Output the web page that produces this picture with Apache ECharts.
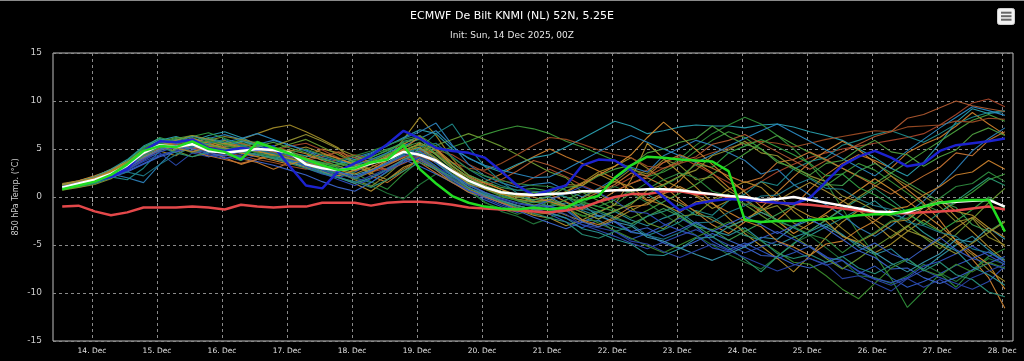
<!DOCTYPE html>
<html><head><meta charset="utf-8">
<script src="https://cdn.jsdelivr.net/npm/echarts@6/dist/echarts.min.js"></script>
<style>html,body{margin:0;padding:0;background:#000}#c{width:1024px;height:361px}</style>
</head><body><div id="c"></div>
<script>
// x grid: hours relative to 14 Dec 00:00 (display time), 6-hourly from 13 Dec 13:00
const firstHour = -11, stepHours = 6, nPoints = 59;
const tickHours = [0,24,48,72,96,120,144,168,192,216,240,264,288,312,336];
const tickLabels = ['14. Dec','15. Dec','16. Dec','17. Dec','18. Dec','19. Dec','20. Dec','21. Dec','22. Dec','23. Dec','24. Dec','25. Dec','26. Dec','27. Dec','28. Dec'];
const yTicks = [-15,-10,-5,0,5,10,15];

const meanLine = [1.0,1.4, 1.8,2.4,3.3,4.6, 5.4,5.2,5.5,4.8, 4.6,4.8,5.0,4.9, 4.6,3.4,3.0,2.8, 3.0,3.5,3.9,4.7, 4.4,3.8,2.7,1.7, 1.0,0.5,0.3,0.2, 0.3,0.4,0.6,0.6, 0.7,0.7,0.8,0.8, 0.7,0.5,0.3,0.1, 0.0,-0.3,-0.2,0.0, -0.3,-0.6,-0.9,-1.2, -1.5,-1.6,-1.6,-1.0, -0.6,-0.5,-0.4,-0.3, -1.0];
const controlRun = [0.8,1.2, 1.6,2.3,3.4,4.8, 5.3,5.2,5.8,5.0, 4.7,3.9,5.7,5.1, 4.5,3.9,3.3,2.8, 3.0,3.6,3.9,5.4, 2.9,1.4,0.1,-0.6, -1.0,-1.2,-1.3,-1.1, -1.3,-1.1,-0.3,0.1, 2.0,3.3,4.2,4.1, 3.9,3.8,3.7,2.7, -2.4,-2.6,-2.5,-2.5, -2.4,-2.3,-2.1,-1.9, -1.8,-1.8,-1.4,-1.0, -0.6,-0.4,-0.3,-0.3, -3.6];
const hresRun = [1.0,1.4, 1.7,2.1,2.9,4.8, 5.8,5.7,6.0,5.1, 4.8,5.1,4.9,5.3, 3.2,1.2,0.9,2.7, 3.5,4.3,5.5,6.9, 6.1,5.1,4.8,4.6, 4.1,2.7,1.2,0.2, 0.7,1.2,3.3,3.9, 3.8,2.8,1.4,0.0, -1.4,-0.7,-0.4,-0.2, -0.3,-0.4,-0.6,-0.7, -0.1,1.6,3.3,4.2, 4.8,4.1,3.2,3.5, 4.8,5.4,5.6,5.8, 6.1];
const climateLine = [-1.0,-0.9, -1.5,-1.9,-1.6,-1.1, -1.1,-1.1,-1.0,-1.1, -1.3,-0.8,-1.0,-1.1, -1.0,-1.0,-0.6,-0.6, -0.6,-0.9,-0.6,-0.5, -0.5,-0.6,-0.8,-1.1, -1.2,-1.3,-1.4,-1.5, -1.6,-1.4,-1.1,-0.5, 0.0,0.3,0.3,0.6, 0.6,0.3,0.3,0.0, -0.1,-0.5,-0.6,-0.7, -0.8,-1.0,-1.2,-1.4, -1.6,-1.7,-1.7,-1.6, -1.5,-1.4,-1.2,-1.0, -1.3];

const ens01 = [1.2,1.5, 1.9,2.5,3.0,4.5, 5.5,5.0,5.6,5.2, 4.8,5.0,5.3,5.0, 4.4,3.8,3.2,2.9, 3.3,3.8,4.4,5.2, 4.4,3.2,1.6,0.6, 0.0,-0.6,-1.1,-1.5, -1.0,-0.6,-1.4,-2.0, -1.5,-2.4,-3.0,-2.2, -1.6,-2.8,-3.5,-4.0, -3.2,-4.5,-5.0,-4.2, -3.6,-2.8,-3.9,-5.2, -6.0,-5.4,-6.8,-7.5, -6.2,-5.0,-4.1,-5.5, -6.8];
const ens02 = [0.8,1.1, 1.5,2.2,3.6,5.0, 6.0,5.4,6.2,5.6, 5.0,4.5,4.9,4.6, 4.0,3.5,3.0,3.4, 3.9,4.2,4.8,5.6, 5.0,4.6,5.2,5.8, 6.5,7.0,7.4,7.1, 6.6,5.8,5.2,4.5, 3.8,3.0,2.1,2.6, 3.5,4.8,5.9,6.8, 6.2,5.0,3.8,2.9, 2.0,1.2,2.4,3.5, 2.8,1.6,0.4,-0.8, -1.5,-0.6,0.5,1.8, 2.4];
const ens03 = [1.3,1.6, 2.0,2.6,3.4,4.2, 4.8,4.3,5.5,5.8, 5.2,6.0,6.6,7.2, 7.5,6.8,6.0,5.1, 3.5,2.4,4.0,6.0, 8.3,6.4,4.0,2.2, 1.2,0.4,-0.3,-0.9, -0.4,0.6,1.5,2.6, 3.2,4.1,3.0,1.8, 0.9,0.1,-1.2,-0.4, 0.7,1.6,0.4,-1.5, -2.8,-1.9,-3.3,-4.6, -5.8,-4.9,-3.6,-2.4, -3.5,-4.8,-6.0,-7.6, -8.8];
const ens04 = [1.0,1.3, 1.8,2.4,3.1,4.4, 5.3,5.6,5.0,4.2, 4.4,4.0,3.6,2.9, 3.6,4.2,5.0,4.6, 3.6,2.2,1.5,2.7, 4.0,3.1,1.9,1.0, 1.6,2.4,3.3,4.2, 5.0,4.2,3.5,2.7, 1.9,0.6,-0.4,0.4, 1.7,3.6,2.5,1.0, -0.3,-1.6,-2.4,-1.0, 0.8,2.3,3.5,4.4, 3.8,3.0,4.6,5.5, 6.2,7.4,8.8,7.6, 6.5];
const ens05 = [1.1,1.4, 1.6,2.0,2.8,3.9, 4.9,5.7,5.9,5.4, 4.9,4.6,4.3,4.8, 5.3,5.6,4.9,4.1, 3.2,2.6,3.0,3.9, 4.4,4.9,4.4,3.4, 2.6,1.8,1.2,2.0, 2.9,2.1,1.2,0.5, 1.1,2.0,2.8,3.6, 4.2,3.3,2.4,1.5, 0.7,1.6,2.6,3.4, 4.1,4.6,5.0,5.3, 5.6,5.9,6.2,6.6, 7.5,8.6,9.8,10.2, 9.4];
const ens06 = [0.9,1.2, 1.6,2.1,2.7,3.5, 4.3,4.9,5.4,5.1, 4.6,4.2,4.6,4.3, 3.8,3.0,2.4,2.0, 2.6,3.4,4.2,5.0, 4.0,2.8,1.6,0.5, -0.3,-1.0,-1.6,-1.1, -1.8,-2.6,-3.2,-2.4, -3.6,-4.4,-3.8,-3.0, -2.2,-3.1,-4.6,-5.5, -4.8,-5.6,-6.4,-5.8, -5.1,-6.2,-7.4,-8.0, -7.2,-8.4,-9.4,-8.8, -8.0,-7.1,-6.4,-6.9, -7.5];
const ens07 = [1.1,1.5, 2.0,2.7,3.8,5.2, 5.9,6.3,5.8,6.4, 6.8,6.2,5.5,5.1, 4.6,4.3,3.9,3.5, 3.9,4.5,5.3,6.2, 7.0,6.6,5.0,4.1, 3.2,2.6,3.4,4.1, 4.4,5.2,6.1,7.0, 7.9,7.4,6.6,6.9, 7.3,7.5,7.4,7.4, 7.2,7.5,7.6,7.3, 6.8,6.4,5.9,5.0, 4.1,3.0,2.2,3.6, 5.6,7.8,9.2,8.7, 8.9];
const ens08 = [1.0,1.2, 1.5,2.3,3.3,4.9, 5.7,5.2,4.6,5.0, 5.6,5.9,5.4,4.9, 4.2,3.9,3.6,3.0, 2.5,1.6,0.8,2.4, 3.8,3.0,1.9,0.8, -0.6,-1.2,-1.8,-1.3, -0.4,-1.2,-2.0,-1.5, -0.8,0.4,1.5,2.8, 4.0,5.4,6.6,7.5, 8.3,7.6,6.4,5.0, 3.4,1.5,-1.2,-3.8, -6.0,-8.5,-11.5,-9.8, -8.0,-9.4,-7.6,-6.2, -5.4];
const ens09 = [1.4,1.7, 2.1,2.9,3.7,4.6, 5.2,4.7,5.1,5.6, 5.9,5.3,5.0,4.6, 4.0,3.4,2.7,2.1, 1.4,0.6,1.8,3.1, 3.8,2.8,1.5,0.7, 0.1,-0.6,-1.3,-1.9, -2.2,-3.0,-2.4,-1.6, -0.8,1.8,5.6,4.0, 2.5,1.0,-0.6,-2.2, -3.8,-5.1,-6.4,-7.8, -6.1,-4.2,-2.6,-1.4, -2.8,-4.3,-3.1,-1.6, -0.4,-2.1,-3.6,-5.2, -6.6];
const ens10 = [0.9,1.0, 1.4,2.0,2.9,4.1, 5.0,5.5,6.0,5.5, 5.1,5.4,5.8,5.2, 4.6,4.0,3.3,2.6, 1.9,1.2,0.4,-0.2, 1.3,2.4,1.6,0.6, -0.5,-1.5,-2.0,-2.8, -2.2,-1.4,-0.6,0.3, 1.1,0.4,-0.6,-1.8, -2.9,-4.0,-5.0,-6.0, -6.8,-7.5,-6.2,-4.8, -4.0,-5.3,-6.6,-8.2, -8.4,-9.0,-8.2,-7.0, -7.9,-8.8,-7.6,-6.4, -7.0];
const ens11 = [1.2,1.6, 2.0,2.4,2.0,1.5, 3.4,5.0,5.6,6.1, 6.5,6.0,5.5,5.9, 5.4,4.8,4.1,3.7, 4.1,4.6,5.4,6.1, 6.8,7.7,5.4,3.4, 2.2,1.5,1.0,1.3, 1.5,0.7,0.0,0.9, 1.9,3.1,2.6,4.3, 5.1,5.9,5.4,4.6, 3.8,2.4,2.9,1.3, 0.2,-0.8,-1.9,-3.2, -4.1,-3.0,-1.7,-0.4, 1.2,2.9,4.8,6.1, 7.2];
const ens12 = [1.0,1.4, 1.7,2.5,3.5,4.8, 5.4,5.9,5.3,4.7, 4.1,3.4,3.9,4.5, 4.9,4.5,3.8,3.2, 2.7,3.4,4.3,5.5, 6.4,4.8,3.2,2.1, 1.4,0.8,0.2,0.5, 0.3,-0.5,-1.3,-0.5, 0.6,1.4,2.0,1.2, -0.3,-1.6,-2.9,-3.8, -2.6,-1.1,0.5,2.1, 3.6,4.8,5.8,4.9, 3.6,2.2,0.8,-0.6, -2.4,-4.6,-6.5,-8.4, -11.6];
const ens13 = [1.3,1.5, 1.9,2.6,3.6,4.7, 5.6,6.1,6.4,5.8, 5.5,5.7,5.0,4.5, 4.0,3.6,3.1,2.7, 3.2,2.6,3.5,4.9, 5.4,4.1,2.7,1.6, 0.8,0.1,-0.4,-0.8, -0.9,-0.3,0.5,-0.4, -1.3,-2.2,-1.4,-0.5, 0.4,1.3,2.4,3.4, 4.5,5.6,6.4,5.5, 4.6,3.8,3.0,2.2, 1.4,2.5,3.6,4.7, 5.8,6.9,8.0,8.6, 7.9];
const ens14 = [1.1,1.3, 1.7,2.2,3.0,4.0, 4.6,3.3,4.6,4.2, 4.5,4.9,5.2,4.6, 3.9,3.3,2.9,2.5, 2.0,2.8,3.6,4.3, 3.8,3.1,2.3,1.4, 0.5,-0.3,-0.9,-1.3, -1.6,-2.2,-2.9,-3.5, -4.1,-4.8,-5.4,-4.7, -4.0,-3.4,-4.2,-5.0, -5.8,-5.2,-4.6,-5.5, -6.4,-7.1,-6.6,-7.8, -8.6,-9.2,-8.5,-7.6, -8.4,-9.0,-9.6,-8.8, -7.2];
const ens15 = [0.7,1.0, 1.3,1.9,2.9,4.3, 5.4,5.0,5.4,5.9, 6.3,6.0,5.6,5.2, 4.8,4.1,3.4,2.6, 1.8,1.1,2.3,3.8, 5.0,3.7,2.3,1.0, 0.3,-0.5,-1.2,-1.8, -1.7,-1.0,-0.1,0.8, 1.6,2.9,2.4,3.9, 3.3,1.8,2.1,0.6, -0.2,-1.4,-0.9,-2.7, -3.5,-2.4,-1.2,0.0, 1.1,2.2,1.2,0.1, -1.0,-2.6,-2.2,-4.2, -5.0];
const ens16 = [1.2,1.4, 1.8,2.1,1.8,3.0, 4.8,5.6,5.2,5.9, 5.6,5.2,4.8,4.3, 3.7,3.2,2.8,2.4, 2.0,1.5,2.6,3.6, 5.1,6.6,7.6,5.2, 3.2,1.6,0.4,-0.4, -1.0,-1.3,-2.4,-2.5, -3.1,-3.6,-4.0,-3.4, -2.6,-1.4,-1.9,-0.4, 0.3,1.6,1.2,2.9, 3.7,4.1,5.4,5.9, 6.5,6.9,6.3,5.7, 6.6,7.6,8.3,8.8, 9.0];
const ens17 = [1.0,1.3, 1.6,2.3,3.2,4.5, 5.3,4.8,4.2,4.6, 5.0,4.6,4.2,4.9, 5.5,6.0,5.2,4.4, 3.6,2.9,3.4,4.1, 4.8,5.4,6.0,6.6, 6.0,5.3,4.4,3.5, 2.6,2.0,0.5,0.4, -0.8,-1.1,-2.7,-3.3, -2.0,-1.8,-0.4,0.3, -0.8,-1.9,-3.0,-4.1, -5.2,-6.4,-7.5,-6.4, -5.2,-4.1,-3.0,-4.2, -5.4,-3.9,-2.3,-0.6, 0.9];
const ens18 = [1.2,1.6, 2.0,2.7,3.5,4.4, 5.1,5.4,5.8,5.3, 4.7,4.3,3.9,3.6, 3.2,2.9,3.4,3.9, 4.4,4.0,3.5,4.2, 4.8,4.6,3.6,3.0, 2.8,3.5,4.4,5.4, 6.2,6.0,5.5,4.9, 4.4,4.1,3.2,3.0, 3.5,4.0,4.6,5.1, 5.6,5.8,5.6,5.2, 5.6,6.0,6.3,6.6, 6.9,6.8,7.3,7.4, 7.5,7.9,7.8,8.2, 8.1];
const ens19 = [1.0,1.2, 1.5,2.0,2.6,3.4, 4.2,4.7,5.2,4.9, 4.5,4.1,3.7,3.3, 2.8,2.3,1.6,1.0, 0.6,1.5,2.7,3.9, 3.2,2.4,1.5,0.7, 0.1,-0.6,-1.4,-2.1, -2.7,-3.3,-2.6,-1.9, -2.6,-3.7,-3.9,-4.8, -5.4,-4.6,-3.8,-4.5, -5.2,-6.1,-6.2,-7.0, -7.4,-6.8,-6.2,-5.6, -6.3,-7.5,-7.4,-8.4, -9.0,-8.4,-7.6,-6.9, -6.2];
const ens20 = [1.1,1.4, 1.8,2.4,3.4,4.6, 5.5,6.0,5.5,5.0, 4.8,5.1,4.6,4.2, 3.9,3.4,2.8,2.2, 2.8,3.5,4.6,5.8, 6.2,4.4,2.9,1.7, 0.9,0.2,-0.3,-0.6, -0.4,-0.9,-1.6,-2.3, -1.5,-0.6,0.3,-0.8, -1.9,-3.0,-4.1,-5.3, -6.5,-7.8,-6.2,-4.9, -3.5,-2.4,-1.3,-0.2, 0.9,-0.3,-1.6,-2.9, -1.6,-0.4,0.8,2.0, 1.2];
const ens21 = [1.3,1.7, 2.2,2.8,3.7,4.9, 5.8,5.3,5.0,5.5, 5.1,4.7,4.4,4.0, 3.6,3.1,2.6,2.2, 2.8,3.5,4.1,4.8, 5.6,5.0,3.6,2.3, 1.5,0.8,0.1,-0.5, -0.3,0.5,1.4,2.3, 3.2,4.4,6.2,7.8, 6.4,4.9,3.4,1.9, 0.5,-1.0,-2.5,-3.8, -2.8,-1.7,-0.5,0.7, 1.9,0.8,-0.4,-1.7, -3.0,-4.5,-5.8,-7.0, -9.6];
const ens22 = [0.8,1.2, 1.6,2.4,3.7,5.1, 6.2,5.7,6.3,6.7, 6.1,5.5,5.1,4.8, 4.3,4.0,3.6,3.3, 3.8,4.4,5.0,5.5, 4.7,3.6,2.4,1.5, 1.0,0.6,0.3,0.5, 0.4,0.0,-0.5,-1.0, -1.5,-0.6,0.3,1.2, 2.1,3.4,3.1,4.6, 5.3,6.0,5.2,4.4, 3.5,2.2,2.4,1.0, 0.2,-0.8,-1.8,-2.7, -3.6,-2.5,-1.3,0.0, -1.2];
const ens23 = [1.0,1.3, 1.7,2.4,3.3,4.2, 5.0,5.4,5.0,4.7, 5.2,5.8,5.4,4.8, 4.3,3.7,3.1,2.6, 2.3,2.8,3.6,4.5, 5.1,3.9,2.6,1.4, 0.9,0.5,0.0,-0.3, 0.0,-0.9,-0.8,-2.0, -2.6,-3.0,-4.2,-4.6, -5.3,-6.0,-6.6,-5.9, -5.2,-4.2,-4.4,-3.1, -2.4,-3.1,-4.0,-4.9, -5.8,-6.9,-7.8,-6.8, -5.9,-4.4,-4.7,-3.2, -4.4];
const ens24 = [1.2,1.5, 1.9,2.5,3.4,4.3, 5.2,5.6,6.0,5.7, 5.4,5.0,4.7,4.4, 4.8,5.2,4.6,4.0, 3.3,2.5,1.8,2.9, 4.0,3.0,1.8,0.8, 0.2,-0.4,-0.9,-1.3, -1.2,-1.9,-2.5,-3.1, -2.3,-1.4,-0.6,0.2, -0.6,-1.5,-2.4,-3.2, -2.3,-1.4,-0.4,0.6, 1.5,0.6,-0.4,-1.4, -2.4,-3.4,-4.5,-5.5, -4.4,-3.2,-2.1,-3.5, -5.2];
const ens25 = [1.1,1.4, 1.8,2.5,3.5,4.6, 5.4,5.8,5.4,5.1, 4.9,5.3,5.0,4.6, 4.1,3.6,3.2,2.8, 3.4,3.9,4.5,5.0, 4.2,3.1,1.9,0.9, 0.4,0.0,-0.3,-0.5, -0.6,-1.2,-1.9,-2.7, -3.5,-4.3,-5.1,-5.8, -5.0,-4.2,-3.4,-2.6, -3.5,-4.6,-5.7,-6.8, -7.0,-8.2,-9.6,-10.6, -9.0,-7.4,-6.5,-7.6, -8.2,-7.0,-7.8,-6.8, -7.4];
const ens26 = [0.9,1.3, 1.7,2.3,3.2,4.4, 5.3,5.9,6.3,6.0, 5.7,6.1,6.6,6.0, 5.4,4.9,4.3,3.8, 3.3,3.9,4.6,5.3, 6.1,6.9,5.3,4.0, 3.3,2.8,2.4,2.0, 2.1,2.9,3.8,4.7, 5.6,6.4,5.7,5.0, 4.3,3.6,4.4,5.3, 6.1,6.9,7.6,6.7, 5.8,4.9,4.0,3.1, 2.2,3.5,4.8,6.0, 7.2,8.3,9.4,9.0, 8.5];
const ens27 = [1.0,1.2, 1.5,2.1,2.8,3.7, 4.4,4.8,5.1,4.7, 4.2,3.8,4.4,4.9, 4.3,3.6,2.8,2.1, 1.5,2.2,3.0,3.8, 4.3,3.2,2.0,1.0, 0.3,-0.2,-0.7,-1.0, -1.3,-1.8,-2.9,-3.2, -3.6,-4.6,-4.9,-5.7, -6.3,-5.6,-4.9,-5.6, -6.3,-7.0,-7.7,-7.1, -6.4,-7.0,-8.5,-8.2, -9.0,-9.8,-8.5,-9.4, -8.6,-9.6,-8.4,-7.7, -7.0];
const ens28 = [1.2,1.4, 1.8,2.5,3.3,4.1, 4.9,5.2,4.8,4.3, 3.9,3.5,3.9,4.4, 4.0,3.5,3.0,2.5, 1.9,2.6,3.3,4.1, 3.6,2.5,1.5,0.5, 0.0,-0.6,-1.1,-1.5, -1.8,-1.1,-0.3,0.5, 1.3,2.5,2.2,3.6, 4.4,3.7,3.0,2.2, 1.5,2.0,3.6,3.9, 4.7,3.9,3.0,2.1, 1.2,0.3,1.2,2.2, 3.1,4.6,4.3,5.9, 6.8];
const ens29 = [1.0,1.3, 1.6,2.2,3.3,4.6, 5.6,5.1,5.7,6.2, 5.7,5.3,5.6,5.1, 4.5,4.0,3.5,3.1, 3.7,4.1,4.9,5.7, 6.0,4.8,3.5,2.3, 1.6,1.0,0.7,0.9, 0.6,0.0,-0.7,-1.4, -2.1,-2.8,-2.0,-1.2, -2.0,-3.1,-3.4,-4.5, -3.6,-2.7,-1.8,-0.9, 0.0,1.3,1.2,2.7, 3.5,2.5,1.5,0.5, -0.5,-1.1,-2.9,-3.6, -2.5];
const ens30 = [1.3,1.6, 2.1,2.9,3.9,5.3, 6.1,5.6,6.0,5.5, 5.0,4.7,4.4,4.1, 3.7,3.2,2.6,2.0, 1.4,2.0,2.9,3.9, 4.7,3.5,2.2,1.0, 0.2,-0.4,-0.9,-1.3, -1.7,-2.2,-3.3,-3.7, -4.4,-4.9,-6.0,-6.1, -5.4,-4.3,-4.2,-3.1, -2.4,-1.6,-2.4,-3.2, -4.0,-3.1,-2.2,-1.3, -0.4,-1.8,-2.3,-3.7, -4.8,-5.6,-7.3,-8.1, -9.2];
const ens31 = [1.1,1.4, 1.8,2.4,3.2,4.3, 5.1,5.5,5.1,4.8, 5.2,5.6,5.1,4.7, 4.2,3.8,4.2,4.7, 4.1,3.4,2.8,3.5, 4.3,3.6,2.8,2.1, 1.2,1.8,2.7,3.8, 3.3,2.6,1.9,1.2, 0.6,1.4,2.2,3.0, 3.7,4.2,5.5,5.9, 6.5,5.6,4.7,3.8, 2.9,3.8,4.7,5.5, 6.3,6.8,8.2,8.6, 9.3,10.0,9.5,9.2, 8.9];
const ens32 = [1.0,1.3, 1.7,2.2,2.9,3.8, 4.7,5.2,4.8,4.4, 4.0,4.4,4.9,4.5, 3.9,3.2,2.5,1.8, 1.2,1.9,2.8,3.6, 4.1,2.9,1.8,0.7, -0.1,-0.8,-1.4,-1.0, -0.3,0.4,1.1,0.4, -0.4,-1.5,-1.7,-2.8, -3.5,-4.0,-5.3,-5.7, -5.0,-4.3,-3.6,-4.4, -5.2,-6.3,-6.6,-7.7, -8.5,-8.9,-8.4,-7.2, -6.7,-5.9,-5.1,-6.1, -7.0];
const ens33 = [1.2,1.5, 1.9,2.6,3.5,4.5, 5.4,5.9,6.4,6.0, 5.5,5.1,4.7,5.3, 5.9,6.5,5.8,5.0, 4.3,3.6,4.2,4.9, 5.5,4.4,3.0,1.8, 1.0,0.4,-0.2,-0.5, -0.2,-0.9,-1.6,-2.3, -1.4,-0.8,0.7,1.3, 2.2,2.8,4.3,4.9, 5.8,4.6,4.3,3.1, 2.2,1.6,0.1,-0.5, -1.4,-2.0,-3.5,-4.1, -5.0,-5.9,-4.8,-3.7, -2.6];
const ens34 = [0.9,1.1, 1.4,2.0,3.0,4.3, 5.2,4.6,4.2,4.7, 5.1,4.8,4.4,4.0, 3.5,3.0,2.5,2.0, 1.6,1.0,1.8,2.7, 3.6,2.9,2.1,1.3, 0.4,-0.4,-1.1,-1.7, -2.2,-2.6,-3.9,-4.3, -3.6,-3.1,-2.0,-1.5, -0.8,-1.9,-2.1,-3.2, -4.0,-4.5,-5.9,-6.4, -6.0,-6.8,-6.2,-7.4, -8.0,-7.1,-6.4,-7.7, -6.8,-8.1,-8.6,-9.9, -10.4];
const ens35 = [1.1,1.5, 2.0,2.6,3.4,4.5, 5.3,5.7,6.1,5.6, 5.1,4.6,4.2,3.8, 3.4,3.9,4.5,4.0, 3.4,2.8,3.8,5.0, 6.3,5.0,3.3,2.0, 1.1,0.6,0.2,0.0, -0.5,-1.0,-2.4,-2.9, -2.1,-1.0,-0.8,0.3, 1.1,0.2,-0.7,-1.6, -2.5,-3.1,-4.6,-5.2, -6.1,-4.9,-4.6,-3.4, -2.5,-1.3,-1.0,0.2, 1.1,2.3,2.6,3.8, 2.9];
const ens36 = [1.0,1.3, 1.8,2.2,2.6,2.2, 3.4,4.4,5.2,5.6, 6.0,5.4,4.9,4.5, 4.0,3.5,3.0,2.4, 1.9,2.7,3.5,4.4, 5.2,5.6,4.2,2.9, 1.9,1.2,0.7,0.6, 0.5,0.0,-1.2,-1.6, -2.3,-2.8,-4.0,-4.4, -3.7,-2.7,-2.6,-1.6, -0.9,0.1,0.2,1.2, 1.9,0.9,0.8,-0.2, -0.9,-1.3,-2.6,-3.0, -3.7,-4.1,-5.4,-5.8, -6.5];
const ens37 = [1.2,1.4, 1.8,2.4,3.4,4.8, 5.7,6.2,5.9,5.4, 5.0,4.8,5.3,5.7, 5.1,4.6,4.0,3.5, 3.1,3.7,4.4,5.2, 5.7,4.5,3.2,2.0, 1.2,0.6,0.0,-0.3, 0.1,1.0,1.2,2.2, 2.9,3.3,4.6,5.0, 5.7,6.1,7.4,6.3, 5.5,5.0,3.6,3.1, 2.3,3.5,3.8,5.0, 5.9,4.7,4.4,3.2, 4.2,4.9,6.5,7.2, 6.4];
const ens38 = [1.1,1.4, 1.8,2.3,3.1,4.0, 4.9,5.4,5.0,4.5, 4.3,4.7,5.1,4.8, 4.3,3.7,3.1,2.6, 2.1,2.7,3.5,4.3, 4.8,3.6,2.3,1.2, 0.5,-0.1,-0.6,-0.9, -1.0,-1.4,-2.6,-3.1, -2.5,-3.6,-3.2,-4.1, -3.4,-2.6,-3.6,-2.8, -2.0,-2.9,-3.8,-3.0, -2.2,-3.3,-4.4,-5.6, -4.8,-5.9,-6.6,-5.4, -4.2,-5.5,-6.4,-5.7, -6.8];
const ens39 = [1.3,1.6, 2.0,2.7,3.6,4.7, 5.5,5.1,4.7,5.2, 5.6,5.2,4.8,4.4, 4.0,3.6,3.2,2.8, 2.4,3.1,3.9,4.7, 5.2,4.0,2.6,1.4, 0.8,0.3,0.0,0.2, 0.3,1.3,1.2,2.4, 1.6,1.1,-0.3,-0.8, -1.6,-0.5,-0.3,0.8, 1.6,1.0,-0.6,-1.1, -2.0,-2.5,-4.1,-4.7, -3.8,-2.6,-2.4,-1.1, -0.2,-1.5,-1.9,-3.2, -4.2];
const ens40 = [0.9,1.2, 1.6,2.3,3.4,4.7, 5.6,5.1,5.5,5.9, 5.4,5.0,4.6,4.2, 4.6,5.0,4.4,3.8, 4.3,4.8,5.4,6.0, 6.4,5.3,4.1,2.9, 2.2,1.7,1.4,1.2, 1.1,0.7,-0.6,-1.0, -0.3,0.7,0.8,1.8, 2.5,2.0,0.6,0.1, -0.7,-1.2,-2.6,-3.1, -3.9,-4.4,-5.8,-4.6, -3.7,-2.5,-2.2,-1.0, -0.1,1.1,1.4,2.6, 1.6];

const ensemble = [ens01,ens02,ens03,ens04,ens05,ens06,ens07,ens08,ens09,ens10,ens11,ens12,ens13,ens14,ens15,ens16,ens17,ens18,ens19,ens20,ens21,ens22,ens23,ens24,ens25,ens26,ens27,ens28,ens29,ens30,ens31,ens32,ens33,ens34,ens35,ens36,ens37,ens38,ens39,ens40];

// styles
const memberColors = ['#2a8fa0','#3c9a3a','#a08a28','#c87a2a','#a8462a','#2e58c4','#2aa0b0','#2f8f3a','#b48e2e','#23753a',
  '#2c80b8','#cc8232','#4aa03c','#2c4cb0','#8c8a2c','#1f8a8a','#6a9a30','#9c4c24','#3a64cc','#2a9a72',
  '#d08a2e','#32a042','#3a98b0','#a88a30','#3a8a2c','#2a88c0','#2a44a8','#c47232','#40a050','#2a9696',
  '#b05a30','#3050c0','#949030','#289078','#c8802c','#1e7a8a','#50a040','#3a60c8','#b08a2a','#2e8a3e'];

const hours = [];
for (let i = 0; i < nPoints; i++) hours.push(firstHour + stepHours * i);
const toData = arr => hours.map((h, i) => [h, arr[i]]);

const series = ensemble.map((arr, k) => ({
  type: 'line', name: 'member ' + (k + 1), data: toData(arr),
  symbol: 'none', showSymbol: false, silent: true,
  lineStyle: { width: 1.1, color: memberColors[k % memberColors.length], opacity: 0.95 }
}));
const thick = (name, arr, color) => ({
  type: 'line', name, data: toData(arr), symbol: 'none', showSymbol: false, silent: true,
  lineStyle: { width: 2.5, color }
});
series.push(thick('climate', climateLine, '#e4484a'));
series.push(thick('hres', hresRun, '#1c22d0'));
series.push(thick('mean', meanLine, '#ffffff'));
series.push(thick('control', controlRun, '#22dd22'));

const chart = echarts.init(document.getElementById('c'), null, { renderer: 'canvas' });
chart.setOption({
  backgroundColor: '#000000',
  animation: false,
  textStyle: { fontFamily: 'DejaVu Sans' },
  title: {
    text: 'ECMWF De Bilt KNMI (NL) 52N, 5.25E',
    subtext: 'Init: Sun, 14 Dec 2025, 00Z',
    left: 'center', top: 6, itemGap: 9,
    textStyle: { color: '#ffffff', fontSize: 11, fontWeight: 'normal', fontFamily: 'DejaVu Sans' },
    subtextStyle: { color: '#e6e6e6', fontSize: 9, fontFamily: 'DejaVu Sans' }
  },
  grid: { left: 53, right: 11, top: 53, bottom: 20, show: true, borderColor: '#c0c0c0', borderWidth: 1, outerBoundsMode: 'none' },
  xAxis: {
    type: 'value', min: -14.4, max: 340,
    axisLine: { show: false },
    axisTick: { show: true, customValues: tickHours, length: 5, lineStyle: { color: '#aaaaaa' } },
    axisLabel: {
      customValues: tickHours, color: '#e0e0e0', fontSize: 7.5, margin: 6,
      formatter: v => { const k = tickHours.indexOf(Math.round(v)); return k >= 0 ? tickLabels[k] : ''; }
    },
    splitLine: { show: true, lineStyle: { color: '#8a8a8a', type: [3, 3], width: 1 } }
  },
  yAxis: {
    type: 'value', min: yTicks[0], max: yTicks[yTicks.length - 1], interval: 5,
    axisLine: { show: false }, axisTick: { show: false },
    axisLabel: { color: '#cccccc', fontSize: 9, margin: 11 },
    splitLine: { show: true, lineStyle: { color: '#8a8a8a', type: [3, 3], width: 1 } },
    name: '850 hPa Temp. (°C)', nameLocation: 'middle', nameGap: 33, nameRotate: 90, nameMoveOverlap: false,
    nameTextStyle: { color: '#cccccc', fontSize: 8 }
  },
  graphic: [
    { type: 'line', shape: { x1: 0, y1: 0.5, x2: 1024, y2: 0.5 }, style: { stroke: '#8a8a8a', lineWidth: 1 } },
    { type: 'rect', shape: { x: 997.5, y: 8.5, width: 17, height: 16, r: 2 }, style: { fill: '#f2f2f2', stroke: '#cfcfcf', lineWidth: 1 } },
    { type: 'line', shape: { x1: 1001, y1: 12.7, x2: 1011.5, y2: 12.7 }, style: { stroke: '#666666', lineWidth: 2 } },
    { type: 'line', shape: { x1: 1001, y1: 16.2, x2: 1011.5, y2: 16.2 }, style: { stroke: '#666666', lineWidth: 2 } },
    { type: 'line', shape: { x1: 1001, y1: 19.7, x2: 1011.5, y2: 19.7 }, style: { stroke: '#666666', lineWidth: 2 } }
  ],
  series
});
</script></body></html>
